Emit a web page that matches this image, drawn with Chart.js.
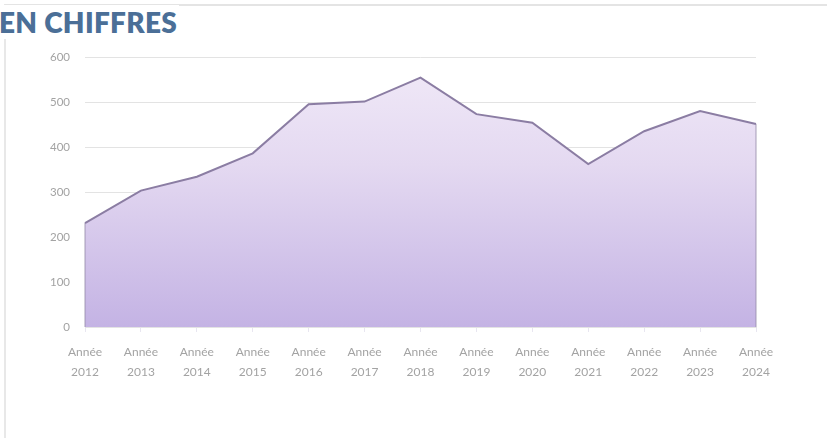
<!DOCTYPE html>
<html>
<head>
<meta charset="utf-8">
<script src="https://cdn.jsdelivr.net/npm/chart.js@4.4.0/dist/chart.umd.min.js"></script>
<style>
  html, body { margin:0; padding:0; background:#fff; width:827px; height:438px; overflow:hidden; }
  #frame { position:absolute; left:4px; top:4px; width:840px; height:460px; border-top:2px solid #e4e4e4; border-left:2px solid #e8e8e8; box-sizing:border-box; }
  #title { position:absolute; left:-1px; top:5px; font-family:Lato, "Open Sans", sans-serif; font-weight:800; font-size:28px; color:#4b6f97; background:#fff; padding-right:2px; line-height:34px; letter-spacing:0.3px; }
  #wrap { position:absolute; left:0; top:0; width:827px; height:438px; }
</style>
</head>
<body>
<div id="frame"></div>
<div id="wrap"><canvas id="c" width="827" height="438"></canvas></div>
<div id="title">EN CHIFFRES</div>
<script>
const years = ["2012","2013","2014","2015","2016","2017","2018","2019","2020","2021","2022","2023","2024"];
const categories = years.map(y => ["Année", y]);
const values = [231, 303, 334, 386, 495, 501, 554, 473, 454, 362, 435, 480, 451];
const yTicks = [0, 100, 200, 300, 400, 500, 600];

const edgePlugin = {
  id: 'edge',
  afterDatasetsDraw(chart) {
    const meta = chart.getDatasetMeta(0);
    const ctx = chart.ctx;
    const ys = chart.scales.y;
    const pts = [meta.data[0], meta.data[meta.data.length - 1]];
    ctx.save();
    ctx.strokeStyle = 'rgba(150,140,170,0.55)';
    ctx.lineWidth = 1.5;
    pts.forEach(p => {
      ctx.beginPath();
      ctx.moveTo(p.x, p.y);
      ctx.lineTo(p.x, ys.getPixelForValue(0));
      ctx.stroke();
    });
    ctx.restore();
  }
};

new Chart(document.getElementById('c'), {
  type: 'line',
  data: {
    labels: categories,
    datasets: [{
      data: values,
      borderColor: '#8b7da3',
      borderWidth: 2,
      pointRadius: 0,
      tension: 0,
      fill: 'origin',
      backgroundColor: (ctx) => {
        const ca = ctx.chart.chartArea;
        if (!ca) return '#dcd0ee';
        const g = ctx.chart.ctx.createLinearGradient(0, ca.top, 0, ca.bottom);
        g.addColorStop(0, '#f1eaf8');
        g.addColorStop(0.4, '#e4d9f1');
        g.addColorStop(1, '#c4b3e4');
        return g;
      }
    }]
  },
  options: {
    responsive: false,
    animation: false,
    devicePixelRatio: 1,
    layout: { padding: { left: 0, right: 71, top: 57, bottom: 30 } },
    plugins: { legend: { display: false }, tooltip: { enabled: false } },
    scales: {
      x: {
        offset: false,
        afterFit: (s) => { s.height = 81; },
        grid: { display: true, drawOnChartArea: false, drawTicks: true, tickLength: 5, color: '#e8e6f0' },
        border: { display: true, color: '#e3e3e3' },
        ticks: {
          color: '#a3a3a3',
          font: { family: 'Lato, "Open Sans", sans-serif', size: 12, lineHeight: 1.6 },
          padding: 11,
          maxRotation: 0,
          autoSkip: false
        }
      },
      y: {
        min: 0, max: 600,
        afterFit: (s) => { s.width = 85; },
        afterBuildTicks: (s) => { s.ticks = yTicks.map(v => ({ value: v })); },
        grid: { color: '#e3e3e3', drawTicks: false, lineWidth: 1 },
        border: { display: false },
        ticks: {
          color: '#a3a3a3',
          font: { family: 'Lato, "Open Sans", sans-serif', size: 11.5 },
          padding: 15
        }
      }
    }
  },
  plugins: [edgePlugin]
});
</script>
</body>
</html>
